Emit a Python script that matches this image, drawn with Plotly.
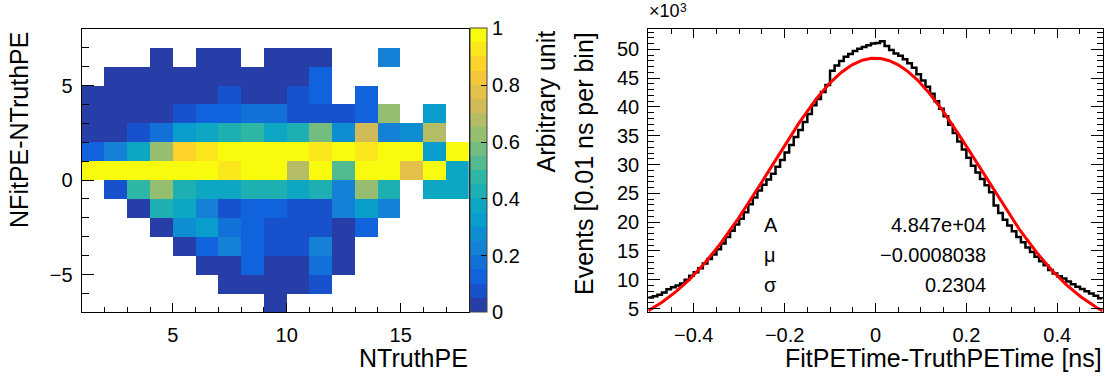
import numpy as np
import plotly.graph_objects as go

W, H = 1111, 381
FONT = "Liberation Sans, Arial, Helvetica, sans-serif"

# ---------------- 2D map: NFitPE-NTruthPE vs NTruthPE ----------------
truth_pe = [1.5, 2.5, 3.5, 4.5, 5.5, 6.5, 7.5, 8.5, 9.5, 10.5,
            11.5, 12.5, 13.5, 14.5, 15.5, 16.5, 17.5]
diff_pe = [-6.5, -5.5, -4.5, -3.5, -2.5, -1.5, -0.5, 0.5,
           1.5, 2.5, 3.5, 4.5, 5.5, 6.5, 7.5]
N = None
# rows from NFitPE-NTruthPE = -6.5 (bottom) to 7.5 (top), normalised content
map_rows = [
    [N, N, N, N, N, N, N, N, .02, N, N, N, N, N, N, N, N],
    [N, N, N, N, N, N, .02, .02, .02, .02, .07, N, N, N, N, N, N],
    [N, N, N, N, N, .02, .02, .12, .02, .02, .19, .02, N, N, N, N, N],
    [N, N, N, N, .02, .12, .22, .12, .07, .07, .20, .02, N, N, N, N, N],
    [N, N, N, .02, .27, .32, .19, .12, .07, .07, .07, .02, .12, N, N, N, N],
    [N, N, .02, .42, .37, .20, .07, .12, .12, .07, .07, .22, .32, .22, N, N, N],
    [N, .09, .47, .62, .42, .37, .37, .42, .42, .37, .42, .22, .62, .42, N, .35, .35],
    [1.0, 1.0, 1.0, 1.0, 1.0, 1.0, .93, 1.0, 1.0, .67, 1.0, .52, 1.0, 1.0, .77, 1.0, .36],
    [.12, .22, .36, .62, .87, .93, 1.0, 1.0, 1.0, 1.0, .93, 1.0, .93, 1.0, 1.0, .33, 1.0],
    [.02, .02, .09, .19, .33, .35, .42, .47, .35, .42, .57, .27, .72, .22, .27, .67, N],
    [.02, .02, .02, .02, .07, .12, .12, .17, .17, .07, .07, .07, .12, .62, N, .33, N],
    [.02, .02, .02, .02, .02, .02, .07, .02, .02, .07, .12, N, .12, N, N, N, N],
    [N, .02, .02, .02, .02, .02, .02, .02, .02, .02, .12, N, N, N, N, N, N],
    [N, N, N, .02, N, .02, .02, N, .02, .02, .02, N, N, .22, N, N, N],
    [N, N, N, N, N, N, N, N, N, N, N, N, N, N, N, N, N],
]
cbar_ticks = [0, 0.2, 0.4, 0.6, 0.8, 1]

# ---------------- 1D timing residual histogram ----------------
t_lo, t_hi, n_bins = -0.5, 0.5, 100
counts = [
    6900, 7150, 7400, 7800, 8350, 8700, 9000, 9350, 10000, 10700,
    11300, 12000, 12800, 13600, 14400, 15300, 16300, 17400, 18500, 19600,
    20600, 21700, 23100, 24300, 25500, 26500, 27400, 28400, 29600, 30800,
    32100, 33400, 34800, 36000, 37400, 38800, 40300, 41400, 42600, 43800,
    46300, 47200, 48000, 48700, 49200, 49700, 50100, 50400, 50700, 51000,
    51100, 51400, 50600, 49900, 49300, 48900, 48300, 47600, 46800, 45700,
    44600, 43500, 42300, 41000, 39700, 38400, 36900, 35500, 34000, 32600,
    31200, 29800, 28600, 27500, 26400, 25200, 22900, 21600, 20400, 19400,
    18400, 17400, 16500, 15600, 14800, 14000, 13200, 12500, 11700, 11100,
    10600, 10200, 9700, 9200, 8800, 8400, 8000, 7600, 7200, 6800,
]
fit_A, fit_mu, fit_sigma = 4.847e4, -0.0008038, 0.2304
fit_labels = ["A", "\u03bc", "\u03c3"]
fit_values = ["4.847e+04", "\u22120.0008038", "0.2304"]
y_ticks_k = [5, 10, 15, 20, 25, 30, 35, 40, 45, 50]

# ---------------- ROOT kBird palette, 20 contour bands ----------------
bird_stops = [0.0, 0.125, 0.25, 0.375, 0.5, 0.625, 0.75, 0.875, 1.0]
bird_r = [0.2082, 0.0592, 0.0780, 0.0232, 0.1802, 0.5301, 0.8186, 0.9956, 0.9764]
bird_g = [0.1664, 0.3599, 0.5041, 0.6419, 0.7178, 0.7492, 0.7328, 0.7862, 0.9832]
bird_b = [0.5293, 0.8684, 0.8385, 0.7914, 0.6425, 0.4662, 0.3499, 0.1968, 0.0539]


def bird(p):
    r = np.interp(p, bird_stops, bird_r)
    g = np.interp(p, bird_stops, bird_g)
    b = np.interp(p, bird_stops, bird_b)
    return f"rgb({int(round(r*255))},{int(round(g*255))},{int(round(b*255))})"


n_cont = 20
colorscale = []
for k in range(n_cont):
    idx = int((k + 0.99) * 255 / n_cont)
    c = bird(min(idx, 254) / 254)
    colorscale.append([k / n_cont, c])
    colorscale.append([(k + 1) / n_cont, c])


def px_x(p):
    return p / W


def px_y(p):
    return 1 - p / H


# plot frames (pixels)
L_x0, L_x1 = 81.7, 469.0
R_x0, R_x1 = 648.3, 1102.7
P_y0, P_y1 = 29.3, 318.3

fig = go.Figure()

fig.add_trace(go.Heatmap(
    x=truth_pe, y=diff_pe, z=map_rows, zmin=0, zmax=1,
    colorscale=colorscale, hoverongaps=False, xaxis="x", yaxis="y",
    colorbar=dict(
        x=px_x(470.0), xanchor="left", xref="paper",
        y=px_y(P_y1), yanchor="bottom", yref="paper",
        len=(P_y1 - P_y0) / H, lenmode="fraction",
        thickness=16.5, thicknessmode="pixels",
        outlinewidth=1, outlinecolor="#444",
        tickvals=cbar_ticks, ticks="inside", ticklen=6, tickcolor="black",
        tickfont=dict(family=FONT, size=20, color="black"),
        xpad=0, ypad=0,
    ),
))

edges = np.linspace(t_lo, t_hi, n_bins + 1)
fig.add_trace(go.Scatter(
    x=edges, y=counts + [counts[-1]], mode="lines",
    line=dict(shape="hv", color="black", width=2.5),
    xaxis="x2", yaxis="y2", showlegend=False, hoverinfo="skip",
))

tf = np.linspace(t_lo, t_hi, 400)
yf = fit_A * np.exp(-0.5 * ((tf - fit_mu) / fit_sigma) ** 2)
fig.add_trace(go.Scatter(
    x=tf, y=yf, mode="lines", line=dict(color="#ff0000", width=3),
    xaxis="x2", yaxis="y2", showlegend=False, hoverinfo="skip",
))

axis_common = dict(
    showgrid=False, zeroline=False, showline=True, linecolor="black",
    linewidth=1.3, ticks="inside", tickcolor="black",
    tickfont=dict(family=FONT, size=20, color="black"),
)

fig.update_layout(
    width=W, height=H, margin=dict(l=0, r=0, t=0, b=0),
    paper_bgcolor="white", plot_bgcolor="white", showlegend=False,
    font=dict(family=FONT, color="black"),
    xaxis=dict(
        domain=[px_x(L_x0), px_x(L_x1)], anchor="y", range=[1, 18],
        tickvals=[5, 10, 15], ticklen=9, mirror=True,
        minor=dict(dtick=1, tick0=0, ticklen=5, ticks="inside", tickcolor="black"),
        ticklabelstandoff=4, **axis_common,
    ),
    yaxis=dict(
        domain=[px_y(P_y1), px_y(P_y0)], anchor="x", range=[-7, 8],
        tickvals=[-5, 0, 5], ticklen=12, mirror=True,
        minor=dict(dtick=1, tick0=0, ticklen=7, ticks="inside", tickcolor="black"),
        ticklabelstandoff=4, **axis_common,
    ),
    xaxis2=dict(
        domain=[px_x(R_x0), px_x(R_x1)], anchor="y2", range=[t_lo, t_hi],
        tickvals=[-0.4, -0.2, 0, 0.2, 0.4], ticklen=9, mirror="ticks",
        minor=dict(dtick=0.05, tick0=0, ticklen=5, ticks="inside", tickcolor="black"),
        ticklabelstandoff=4, **axis_common,
    ),
    yaxis2=dict(
        domain=[px_y(P_y1), px_y(P_y0)], anchor="x2", range=[4320, 53580],
        tickvals=[v * 1000 for v in y_ticks_k], ticktext=[str(v) for v in y_ticks_k],
        ticklen=12, mirror="ticks",
        minor=dict(dtick=1000, tick0=0, ticklen=6, ticks="inside", tickcolor="black"),
        ticklabelstandoff=4, **axis_common,
    ),
)

title_font = dict(family=FONT, size=25, color="black")
stat_font = dict(family=FONT, size=20, color="black")
ann = [
    dict(text="NFitPE-NTruthPE", x=px_x(19.5), y=px_y(31), xanchor="center",
         yanchor="top", textangle=-90, font=title_font),
    dict(text="NTruthPE", x=px_x(L_x1), y=px_y(365), xanchor="right",
         yanchor="middle", font=title_font, borderpad=0),
    dict(text="Arbitrary unit", x=px_x(546), y=px_y(29), xanchor="center",
         yanchor="top", textangle=-90, font=title_font),
    dict(text="Events [0.01 ns per bin]", x=px_x(584), y=px_y(31), xanchor="center",
         yanchor="top", textangle=-90, font=title_font),
    dict(text="FitPETime-TruthPETime [ns]", x=px_x(R_x1), y=px_y(365),
         xanchor="right", yanchor="middle", font=title_font, borderpad=0),
    # axis multiplier written ROOT-style above the frame
    dict(text="\u00d710", x=px_x(R_x0), y=px_y(11), xanchor="left",
         yanchor="middle", font=dict(family=FONT, size=18, color="black"), borderpad=0),
    dict(text="3", x=px_x(R_x0 + 30.5), y=px_y(0), xanchor="left",
         yanchor="top", font=dict(family=FONT, size=12, color="black"), borderpad=0),
]
line_y = [229.7, 260.0, 290.5]
for lab, val, yy in zip(fit_labels, fit_values, line_y):
    ann.append(dict(text=lab, x=px_x(761.7), y=px_y(yy), xanchor="left",
                    yanchor="middle", font=stat_font))
    ann.append(dict(text=val, x=px_x(988), y=px_y(yy), xanchor="right",
                    yanchor="middle", font=stat_font))
for a in ann:
    a.update(xref="paper", yref="paper", showarrow=False)
fig.update_layout(annotations=ann)

fig.write_html("out.html")
